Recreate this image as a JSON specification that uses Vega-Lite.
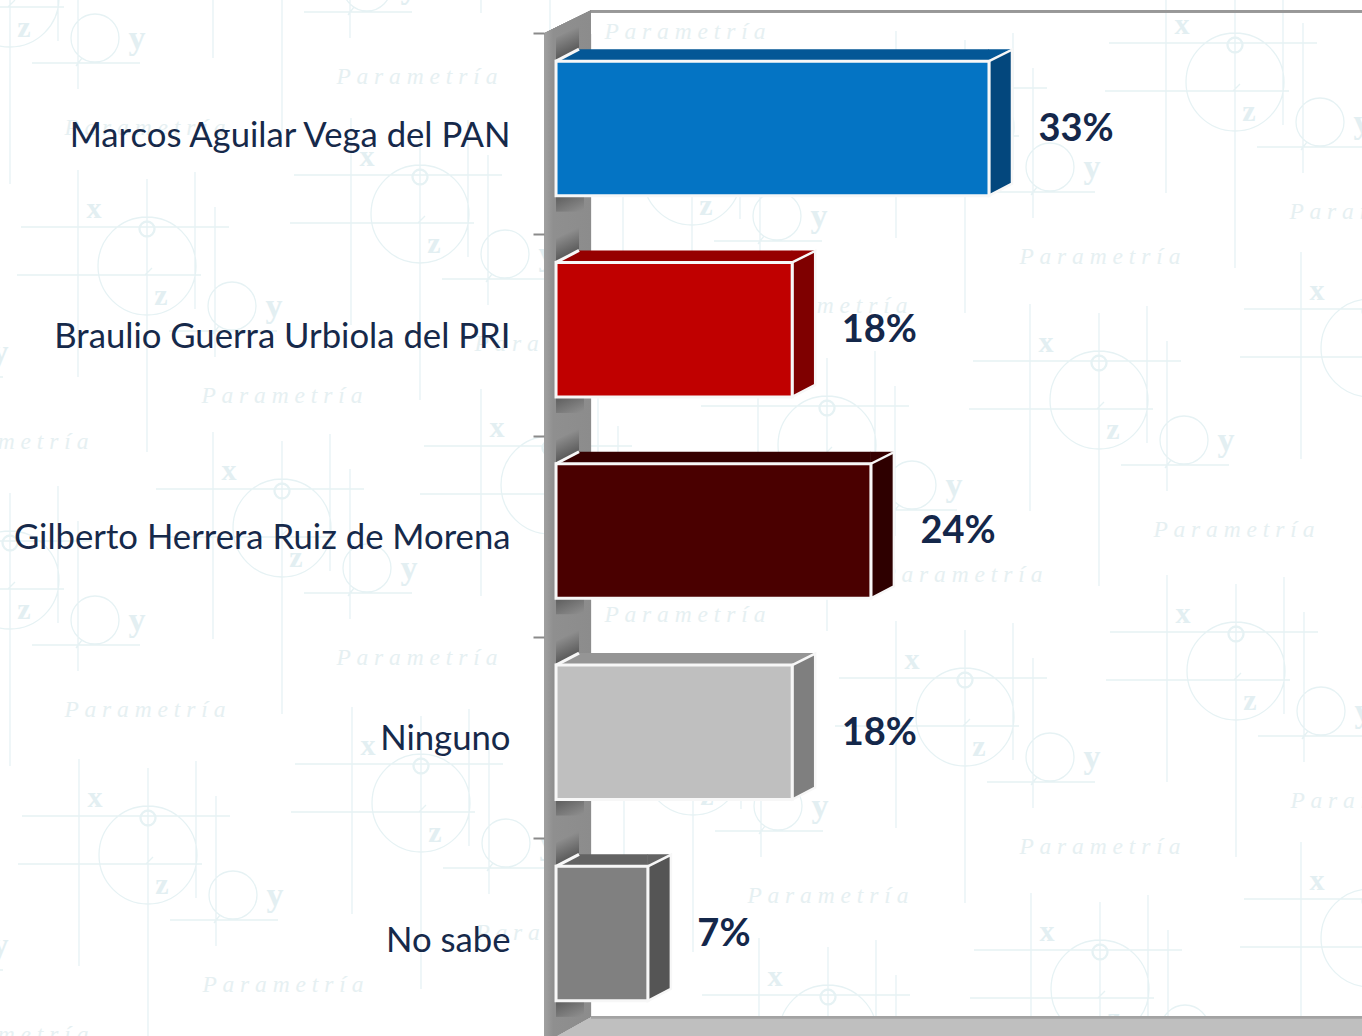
{
"$schema":"https://vega.github.io/schema/vega-lite/v6.json",
"width":1362,"height":1036,"padding":0,"autosize":{"type":"none"},
"background":"#ffffff",
"config":{"view":{"stroke":null}},
"datasets":{
"bars":[
{"label":"Marcos Aguilar Vega del PAN","pct":33,"text":"33%"},
{"label":"Braulio Guerra Urbiola del PRI","pct":18,"text":"18%"},
{"label":"Gilberto Herrera Ruiz de Morena","pct":24,"text":"24%"},
{"label":"Ninguno","pct":18,"text":"18%"},
{"label":"No sabe","pct":7,"text":"7%"}],
"motif":[
{"cx":147,"cy":266},{"cx":420,"cy":214},{"cx":827,"cy":445},{"cx":1099,"cy":400},{"cx":282,"cy":528},{"cx":692,"cy":176},
{"cx":10,"cy":-2},{"cx":10,"cy":580},{"cx":-127,"cy":312},{"cx":-127,"cy":905},{"cx":965,"cy":127},{"cx":965,"cy":717},
{"cx":1235,"cy":82},{"cx":1236,"cy":671},{"cx":1370,"cy":348},{"cx":1370,"cy":938},{"cx":550,"cy":485},{"cx":550,"cy":-98},
{"cx":282,"cy":-53},{"cx":693,"cy":766},{"cx":421,"cy":803},{"cx":148,"cy":855},{"cx":828,"cy":1034},{"cx":1100,"cy":989}]
},
"resolve":{"scale":{"x":"independent","y":"independent"}},
"layer":[
{
"data":{"name":"motif"},
"encoding":{
"x":{"field":"cx","type":"quantitative","axis":null,"scale":{"domain":[0,1362],"range":[0,1362],"nice":false,"zero":false}},
"y":{"field":"cy","type":"quantitative","axis":null,"scale":{"domain":[0,1036],"range":[0,1036],"nice":false,"zero":false}}
},
"layer":[
{"mark":{"type":"point","size":4,"filled":false,"opacity":1,"stroke":"#e6f2f4","strokeWidth":1.3,
"shape":"M0,-87V186M-69,-96V111M48,-94V43M68,-59V91M-126,-39H82M-130,9H54M22,65H130M-49,0A49,49,0,1,1,49,0A49,49,0,1,1,-49,0M61,40A24,24,0,1,1,109,40A24,24,0,1,1,61,40M-8,-37A8,8,0,1,1,8,-37A8,8,0,1,1,-8,-37M-7,-37A7,7,0,1,1,7,-37A7,7,0,1,1,-7,-37M-2,9L5,2M66,68L72,60"}},
{"mark":{"type":"text","text":"x","dx":-53,"dy":-57,"font":"Liberation Serif","fontWeight":"bold","fontSize":30,"fill":"#e3eff2"}},
{"mark":{"type":"text","text":"z","dx":14,"dy":30,"font":"Liberation Serif","fontWeight":"bold","fontSize":30,"fill":"#e3eff2"}},
{"mark":{"type":"text","text":"y","dx":127,"dy":41,"font":"Liberation Serif","fontWeight":"bold","fontSize":34,"fill":"#e3eff2"}},
{"mark":{"type":"text","text":"P a r a m e t r í a","dx":135,"dy":130,"font":"Liberation Serif","fontStyle":"italic","fontSize":23.5,"fill":"#e6f0f2"}}
]
},
{
"data":{"name":"bars"},
"encoding":{
"x":{"field":"pct","type":"quantitative","stack":null,"axis":null,"scale":{"domain":[-42.38,61.43],"range":[0,1362],"nice":false,"zero":false}},
"y":{"field":"label","type":"nominal","sort":null,
"scale":{"domain":["Marcos Aguilar Vega del PAN","Braulio Guerra Urbiola del PRI","Gilberto Herrera Ruiz de Morena","Ninguno","No sabe"],"range":[33,1039.5],"paddingInner":0,"paddingOuter":0},
"axis":{"title":null,"offset":-544,"domain":false,"tickBand":"extent","tickSize":11,"tickWidth":2,"tickColor":"#8a8a8a","labelPadding":23,"labelOffset":2.4,"labelFont":"Lato","labelFontSize":34.7,"labelColor":"#16294a","labelLimit":600,"labelBaseline":"middle","zindex":1}}
},
"resolve":{"scale":{"fill":"independent"}},
"layer":[
{"mark":{"type":"point","size":4,"filled":true,"opacity":1,
"fill":{"gradient":"linear","x1":0,"x2":1,"y1":0,"y2":0,"stops":[{"offset":0,"color":"#a0a0a0"},{"offset":0.2,"color":"#8f8f8f"},{"offset":1,"color":"#8c8c8c"}]},
"shape":"M-12,-905.5L35,-928.5V79.5L-1,98.5H-12Z"},
"encoding":{"x":{"datum":0},"y":{"datum":"No sabe"}}},
{"mark":{"type":"point","size":4,"filled":true,"opacity":1,
"fill":{"gradient":"linear","x1":0,"y1":0,"x2":0.3,"y2":1,"stops":[{"offset":0.3,"color":"#8c8c8c"},{"offset":0.92,"color":"#565656"}]},
"shape":"M0,-72L0,-96L23,-108L23,-84Z"},
"encoding":{"x":{"datum":0}}},
{"mark":{"type":"point","size":4,"filled":true,"opacity":1,
"fill":{"gradient":"linear","x1":0,"y1":0,"x2":0.8,"y2":1,"stops":[{"offset":0,"color":"#5c5c5c"},{"offset":1,"color":"#8c8c8c"}]},
"shape":"M0,62H28V78H0Z"},
"encoding":{"x":{"datum":0}}},
{"mark":{"type":"point","size":4,"filled":true,"opacity":1,"fill":"#bfbfbf","shape":"M35,78.5H806V98.5H-1Z"},
"encoding":{"x":{"datum":0},"y":{"datum":"No sabe"}}},
{"mark":{"type":"point","size":4,"filled":false,"opacity":1,"stroke":"#a3a3a3","strokeWidth":2,"shape":"M35,78.5H806"},
"encoding":{"x":{"datum":0},"y":{"datum":"No sabe"}}},
{"mark":{"type":"point","size":4,"filled":false,"opacity":1,"stroke":"#989898","strokeWidth":2.5,"shape":"M35,-927.5H806"},
"encoding":{"x":{"datum":0},"y":{"datum":"No sabe"}}},
{"mark":{"type":"bar","size":12,"yOffset":-78.5},
"encoding":{"x":{"datum":1.75},"x2":{"field":"pct"},
"fill":{"field":"label","type":"nominal","legend":null,"scale":{"domain":["Marcos Aguilar Vega del PAN","Braulio Guerra Urbiola del PRI","Gilberto Herrera Ruiz de Morena","Ninguno","No sabe"],"range":["#045796","#960000","#360000","#959595","#636363"]}}}},
{"mark":{"type":"point","size":4,"filled":true,"opacity":1,"shape":"M0,-72.5L23,-84.5H23.5V-72.5Z"},
"encoding":{"x":{"datum":0},
"fill":{"field":"label","type":"nominal","legend":null,"scale":{"domain":["Marcos Aguilar Vega del PAN","Braulio Guerra Urbiola del PRI","Gilberto Herrera Ruiz de Morena","Ninguno","No sabe"],"range":["#045796","#960000","#360000","#959595","#636363"]}}}},
{"mark":{"type":"point","size":4,"filled":true,"opacity":1,"shape":"M-0.5,-72.5V-84.5H23Z"},
"encoding":{
"fill":{"field":"label","type":"nominal","legend":null,"scale":{"domain":["Marcos Aguilar Vega del PAN","Braulio Guerra Urbiola del PRI","Gilberto Herrera Ruiz de Morena","Ninguno","No sabe"],"range":["#045796","#960000","#360000","#959595","#636363"]}}}},
{"mark":{"type":"point","size":4,"filled":false,"opacity":1,"stroke":"#f7f7f7","strokeWidth":3,"shape":"M0,-72.5L23,-84.5"},
"encoding":{"x":{"datum":0}}},
{"mark":{"type":"point","size":4,"filled":true,"opacity":1,"stroke":"#f7f7f7","strokeWidth":2.5,"shape":"M0,-72.5L23,-84V50L0,62Z"},
"encoding":{
"fill":{"field":"label","type":"nominal","legend":null,"scale":{"domain":["Marcos Aguilar Vega del PAN","Braulio Guerra Urbiola del PRI","Gilberto Herrera Ruiz de Morena","Ninguno","No sabe"],"range":["#03477d","#7f0000","#2e0000","#7f7f7f","#555555"]}}}},
{"mark":{"type":"bar","size":134.5,"yOffset":-5.25,"stroke":"#f7f7f7","strokeWidth":3},
"encoding":{
"fill":{"field":"label","type":"nominal","legend":null,"scale":{"domain":["Marcos Aguilar Vega del PAN","Braulio Guerra Urbiola del PRI","Gilberto Herrera Ruiz de Morena","Ninguno","No sabe"],"range":["#0474c4","#c00000","#4a0000","#bfbfbf","#808080"]}}}},
{"mark":{"type":"text","align":"left","baseline":"middle","dx":49.5,"dy":-4,"font":"Lato","fontWeight":"bold","fontSize":38,"fill":"#14274a"},
"encoding":{"text":{"field":"text","type":"nominal"}}}
]
}
]
}
